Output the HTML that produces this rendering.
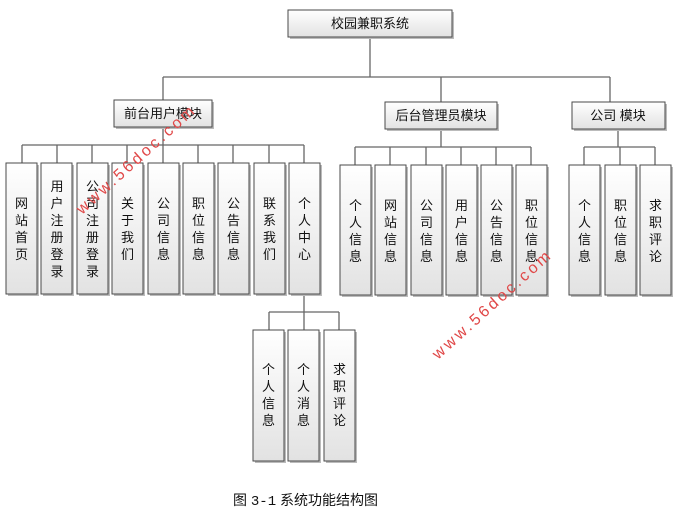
<!DOCTYPE html>
<html><head><meta charset="utf-8"><style>
html,body{margin:0;padding:0;background:#fff;width:682px;height:514px;overflow:hidden}
svg{display:block}
text{font-family:"Liberation Sans","Noto Sans CJK SC","WenQuanYi Zen Hei",sans-serif;font-size:13px;fill:#111}
.b{fill:url(#g);stroke:#4a4a4a;stroke-width:1}
.s{fill:#bbb}
.l{stroke:#666;stroke-width:1.3;fill:none}
.v{text-anchor:middle}
.wm{font-size:16px;font-weight:normal;fill:#e04848;letter-spacing:3px}
</style></head><body>
<svg width="682" height="514" viewBox="0 0 682 514">
<defs><linearGradient id="g" x1="0" y1="0" x2="0" y2="1"><stop offset="0" stop-color="#ffffff"/><stop offset="1" stop-color="#e2e2e2"/></linearGradient></defs>
<path class="l" d="M370 37V77M163 77H610M163 77V100M441 77V102M610 77V102"/>
<path class="l" d="M163 127V145M22 145H304M22 145V163M57 145V163M92 145V163M127 145V163M163 145V163M198 145V163M233 145V163M269 145V163M304 145V163"/>
<path class="l" d="M441 129V147M355 147H531M355 147V165M390 147V165M426 147V165M461 147V165M496 147V165M531 147V165"/>
<path class="l" d="M618 129V147M584 147H655M584 147V165M620 147V165M655 147V165"/>
<path class="l" d="M304 295V312M269 312H339M269 312V330M304 312V330M339 312V330"/>
<rect class="s" x="290" y="12" width="164" height="27"/><rect class="b" x="288" y="10" width="164" height="27"/>
<text class="v" x="370" y="28">校园兼职系统</text>
<rect class="s" x="116" y="102" width="98" height="27"/><rect class="b" x="114" y="100" width="98" height="27"/>
<text class="v" x="163" y="118">前台用户模块</text>
<rect class="s" x="387" y="104" width="112" height="27"/><rect class="b" x="385" y="102" width="112" height="27"/>
<text class="v" x="441" y="120">后台管理员模块</text>
<rect class="s" x="574" y="104" width="93" height="27"/><rect class="b" x="572" y="102" width="93" height="27"/>
<text class="v" x="618" y="120">公司 模块</text>
<g>
<rect class="s" x="8" y="165" width="31" height="131"/><rect class="b" x="6" y="163" width="31" height="131"/>
<rect class="s" x="43" y="165" width="31" height="131"/><rect class="b" x="41" y="163" width="31" height="131"/>
<rect class="s" x="79" y="165" width="31" height="131"/><rect class="b" x="77" y="163" width="31" height="131"/>
<rect class="s" x="114" y="165" width="31" height="131"/><rect class="b" x="112" y="163" width="31" height="131"/>
<rect class="s" x="150" y="165" width="31" height="131"/><rect class="b" x="148" y="163" width="31" height="131"/>
<rect class="s" x="185" y="165" width="31" height="131"/><rect class="b" x="183" y="163" width="31" height="131"/>
<rect class="s" x="220" y="165" width="31" height="131"/><rect class="b" x="218" y="163" width="31" height="131"/>
<rect class="s" x="256" y="165" width="31" height="131"/><rect class="b" x="254" y="163" width="31" height="131"/>
<rect class="s" x="291" y="165" width="31" height="131"/><rect class="b" x="289" y="163" width="31" height="131"/>
</g>
<text class="v"><tspan x="21.5" y="208">网</tspan><tspan x="21.5" dy="17">站</tspan><tspan x="21.5" dy="17">首</tspan><tspan x="21.5" dy="17">页</tspan></text>
<text class="v"><tspan x="57" y="191">用</tspan><tspan x="57" dy="17">户</tspan><tspan x="57" dy="17">注</tspan><tspan x="57" dy="17">册</tspan><tspan x="57" dy="17">登</tspan><tspan x="57" dy="17">录</tspan></text>
<text class="v"><tspan x="92.5" y="191">公</tspan><tspan x="92.5" dy="17">司</tspan><tspan x="92.5" dy="17">注</tspan><tspan x="92.5" dy="17">册</tspan><tspan x="92.5" dy="17">登</tspan><tspan x="92.5" dy="17">录</tspan></text>
<text class="v"><tspan x="127.5" y="208">关</tspan><tspan x="127.5" dy="17">于</tspan><tspan x="127.5" dy="17">我</tspan><tspan x="127.5" dy="17">们</tspan></text>
<text class="v"><tspan x="163.5" y="208">公</tspan><tspan x="163.5" dy="17">司</tspan><tspan x="163.5" dy="17">信</tspan><tspan x="163.5" dy="17">息</tspan></text>
<text class="v"><tspan x="198.5" y="208">职</tspan><tspan x="198.5" dy="17">位</tspan><tspan x="198.5" dy="17">信</tspan><tspan x="198.5" dy="17">息</tspan></text>
<text class="v"><tspan x="233.5" y="208">公</tspan><tspan x="233.5" dy="17">告</tspan><tspan x="233.5" dy="17">信</tspan><tspan x="233.5" dy="17">息</tspan></text>
<text class="v"><tspan x="269.5" y="208">联</tspan><tspan x="269.5" dy="17">系</tspan><tspan x="269.5" dy="17">我</tspan><tspan x="269.5" dy="17">们</tspan></text>
<text class="v"><tspan x="304.5" y="208">个</tspan><tspan x="304.5" dy="17">人</tspan><tspan x="304.5" dy="17">中</tspan><tspan x="304.5" dy="17">心</tspan></text>
<rect class="s" x="342" y="167" width="31" height="130"/><rect class="b" x="340" y="165" width="31" height="130"/>
<rect class="s" x="377" y="167" width="31" height="130"/><rect class="b" x="375" y="165" width="31" height="130"/>
<rect class="s" x="413" y="167" width="31" height="130"/><rect class="b" x="411" y="165" width="31" height="130"/>
<rect class="s" x="448" y="167" width="31" height="130"/><rect class="b" x="446" y="165" width="31" height="130"/>
<rect class="s" x="483" y="167" width="31" height="130"/><rect class="b" x="481" y="165" width="31" height="130"/>
<rect class="s" x="518" y="167" width="31" height="130"/><rect class="b" x="516" y="165" width="31" height="130"/>
<text class="v"><tspan x="355.5" y="210">个</tspan><tspan x="355.5" dy="17">人</tspan><tspan x="355.5" dy="17">信</tspan><tspan x="355.5" dy="17">息</tspan></text>
<text class="v"><tspan x="390.5" y="210">网</tspan><tspan x="390.5" dy="17">站</tspan><tspan x="390.5" dy="17">信</tspan><tspan x="390.5" dy="17">息</tspan></text>
<text class="v"><tspan x="426.5" y="210">公</tspan><tspan x="426.5" dy="17">司</tspan><tspan x="426.5" dy="17">信</tspan><tspan x="426.5" dy="17">息</tspan></text>
<text class="v"><tspan x="461.5" y="210">用</tspan><tspan x="461.5" dy="17">户</tspan><tspan x="461.5" dy="17">信</tspan><tspan x="461.5" dy="17">息</tspan></text>
<text class="v"><tspan x="496.5" y="210">公</tspan><tspan x="496.5" dy="17">告</tspan><tspan x="496.5" dy="17">信</tspan><tspan x="496.5" dy="17">息</tspan></text>
<text class="v"><tspan x="531.5" y="210">职</tspan><tspan x="531.5" dy="17">位</tspan><tspan x="531.5" dy="17">信</tspan><tspan x="531.5" dy="17">息</tspan></text>
<rect class="s" x="571" y="167" width="31" height="130"/><rect class="b" x="569" y="165" width="31" height="130"/>
<rect class="s" x="607" y="167" width="31" height="130"/><rect class="b" x="605" y="165" width="31" height="130"/>
<rect class="s" x="642" y="167" width="31" height="130"/><rect class="b" x="640" y="165" width="31" height="130"/>
<text class="v"><tspan x="584.5" y="210">个</tspan><tspan x="584.5" dy="17">人</tspan><tspan x="584.5" dy="17">信</tspan><tspan x="584.5" dy="17">息</tspan></text>
<text class="v"><tspan x="620.5" y="210">职</tspan><tspan x="620.5" dy="17">位</tspan><tspan x="620.5" dy="17">信</tspan><tspan x="620.5" dy="17">息</tspan></text>
<text class="v"><tspan x="655.5" y="210">求</tspan><tspan x="655.5" dy="17">职</tspan><tspan x="655.5" dy="17">评</tspan><tspan x="655.5" dy="17">论</tspan></text>
<rect class="s" x="255" y="332" width="31" height="131"/><rect class="b" x="253" y="330" width="31" height="131"/>
<rect class="s" x="290" y="332" width="31" height="131"/><rect class="b" x="288" y="330" width="31" height="131"/>
<rect class="s" x="326" y="332" width="31" height="131"/><rect class="b" x="324" y="330" width="31" height="131"/>
<text class="v"><tspan x="268.5" y="374">个</tspan><tspan x="268.5" dy="17">人</tspan><tspan x="268.5" dy="17">信</tspan><tspan x="268.5" dy="17">息</tspan></text>
<text class="v"><tspan x="303.5" y="374">个</tspan><tspan x="303.5" dy="17">人</tspan><tspan x="303.5" dy="17">消</tspan><tspan x="303.5" dy="17">息</tspan></text>
<text class="v"><tspan x="339.5" y="374">求</tspan><tspan x="339.5" dy="17">职</tspan><tspan x="339.5" dy="17">评</tspan><tspan x="339.5" dy="17">论</tspan></text>
<text class="wm" transform="translate(82,215) rotate(-42)">www.56doc.com</text>
<text class="wm" transform="translate(438,360) rotate(-42)">www.56doc.com</text>
<text x="233" y="505" style="font-size:14px">图 <tspan style="font-family:'Liberation Mono',monospace">3-1</tspan> 系统功能结构图</text>
</svg>
</body></html>
